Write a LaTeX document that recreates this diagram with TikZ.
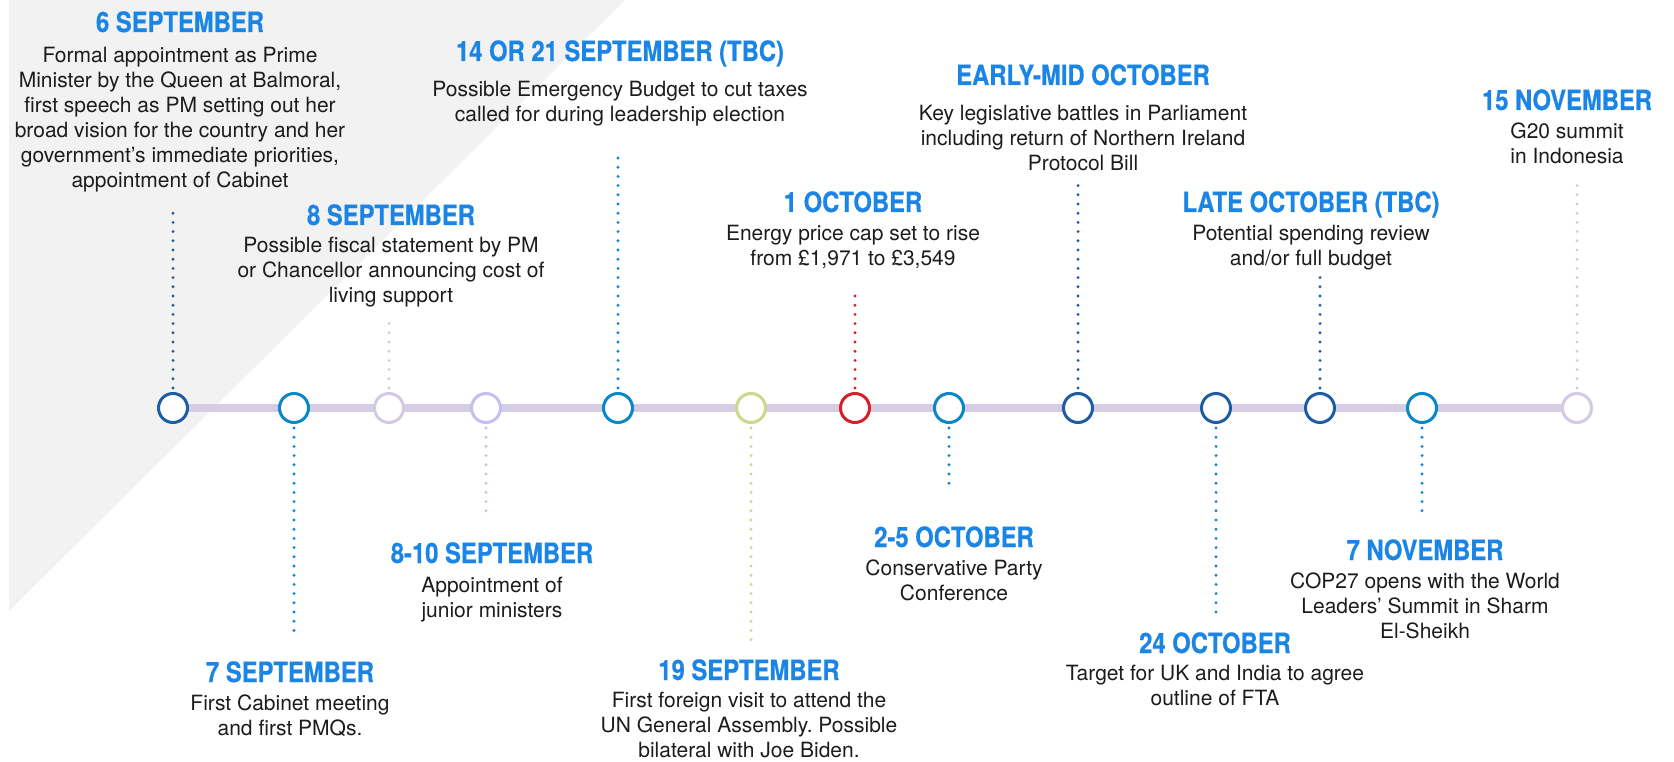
\documentclass[tikz,border=0pt]{standalone}
\usepackage{fontspec}
\setmainfont{TeX Gyre Heros}
\newfontfamily\headfont[FakeStretch=0.85,FakeBold=0.6]{TeX Gyre Heros}
\usetikzlibrary{positioning}
\frenchspacing

\definecolor{panelgrey}{HTML}{F2F2F2}
\definecolor{trackgrey}{HTML}{D5CDE4}
\definecolor{dateblue}{HTML}{1B85E5}
\definecolor{inkgrey}{HTML}{1C1C1C}
\definecolor{navy}{HTML}{1F5CA6}
\definecolor{cyan}{HTML}{0A87C9}
\definecolor{lilac}{HTML}{D2CAE2}
\definecolor{lavender}{HTML}{C6BEF0}
\definecolor{olive}{HTML}{C9D88C}
\definecolor{alarm}{HTML}{D3202A}

\begin{document}
\begin{tikzpicture}[x=1pt,y=1pt]
	\tikzset{
	  EventDot/.style = {circle, draw=#1, line width=3pt, fill=white,
	                     minimum size=29pt, inner sep=0pt},
	  DateLabel/.style = {anchor=base, inner sep=0pt, text=dateblue,
	                      font=\headfont\bfseries\fontsize{28}{30}\selectfont},
	  NoteText/.style = {inner sep=0pt, align=center, text=inkgrey,
	                     font=\fontsize{21}{25}\selectfont},
	  Link/.style = {draw=#1, line width=3.2pt, line cap=round,
	                 dash pattern=on 0pt off 9.2pt, shorten <=4pt},
	  Track/.style = {line width=8pt, trackgrey} }
	\useasboundingbox (0,0) rectangle (1674,-762);
	\fill[panelgrey] (9,0) -- (625,0) -- (9,-611) -- cycle;
	% the time line
	\coordinate (tstart) at (173,-408);
	\coordinate (tend) at (1577,-408);
	\draw[Track] (tstart) -- (tend);
	\node[EventDot=navy]     (d6sep)   at (tstart) {};
	\node[EventDot=cyan]     (d7sep)   at (294,-408) {};
	\node[EventDot=lilac]    (d8sep)   at (389,-408) {};
	\node[EventDot=lavender] (d810sep) at (486,-408) {};
	\node[EventDot=cyan]     (d14sep)  at (618,-408) {};
	\node[EventDot=olive]    (d19sep)  at (751,-408) {};
	\node[EventDot=alarm]    (d1oct)   at (855,-408) {};
	\node[EventDot=cyan]     (d25oct)  at (949,-408) {};
	\node[EventDot=navy]     (dmidoct) at (1078,-408) {};
	\node[EventDot=navy]     (d24oct)  at (1216,-408) {};
	\node[EventDot=navy]     (dlateoct) at (1320,-408) {};
	\node[EventDot=cyan]     (d7nov)   at (1422,-408) {};
	\node[EventDot=lilac]    (d15nov)  at (tend) {};
	% loose ends of the dotted links
	\coordinate (e6sep)   at (173,-211);
	\coordinate (e7sep)   at (294,-638);
	\coordinate (e8sep)   at (389,-321);
	\coordinate (e810sep) at (486,-515);
	\coordinate (e14sep)  at (618,-150);
	\coordinate (e19sep)  at (751,-640);
	\coordinate (e1oct)   at (855,-287);
	\coordinate (e25oct)  at (949,-484);
	\coordinate (emidoct) at (1078,-182);
	\coordinate (e24oct)  at (1216,-613);
	\coordinate (elateoct) at (1320,-277);
	\coordinate (e7nov)   at (1422,-518);
	\coordinate (e15nov)  at (1577,-184);
	\draw[Link=navy]     (d6sep)   -- (e6sep);
	\draw[Link=cyan]     (d7sep)   -- (e7sep);
	\draw[Link=lilac]    (d8sep)   -- (e8sep);
	\draw[Link=lavender] (d810sep) -- (e810sep);
	\draw[Link=cyan]     (d14sep)  -- (e14sep);
	\draw[Link=olive]    (d19sep)  -- (e19sep);
	\draw[Link=alarm]    (d1oct)   -- (e1oct);
	\draw[Link=cyan]     (d25oct)  -- (e25oct);
	\draw[Link=navy]     (dmidoct) -- (emidoct);
	\draw[Link=cyan]     (d24oct)  -- (e24oct);
	\draw[Link=navy]     (dlateoct) -- (elateoct);
	\draw[Link=cyan]     (d7nov)   -- (e7nov);
	\draw[Link=lilac]    (d15nov)  -- (e15nov);
	% dates and notes
	\node[DateLabel] (h6sep) at (180,-32) {6 SEPTEMBER};
	\node[NoteText, below=15pt of h6sep.base] (n6sep) {Formal appointment as Prime\\
	  Minister by the Queen at Balmoral,\\ first speech as PM setting out her\\
	  broad vision for the country and her\\ government’s immediate priorities,\\
	  appointment of Cabinet};
	\node[DateLabel] (h7sep) at (290,-682) {7 SEPTEMBER};
	\node[NoteText, below=13pt of h7sep.base] (n7sep) {First Cabinet meeting\\ and first PMQs.};
	\node[DateLabel] (h8sep) at (391,-225) {8 SEPTEMBER};
	\node[NoteText, below=12pt of h8sep.base] (n8sep) {Possible fiscal statement by PM\\
	  or Chancellor announcing cost of\\ living support};
	\node[DateLabel] (h810sep) at (492,-563) {8-10 SEPTEMBER};
	\node[NoteText, below=14pt of h810sep.base] (n810sep) {Appointment of\\ junior ministers};
	\node[DateLabel] (h14sep) at (620,-61) {14 OR 21 SEPTEMBER (TBC)};
	\node[NoteText, below=20pt of h14sep.base] (n14sep) {Possible Emergency Budget to cut taxes\\
	  called for during leadership election};
	\node[DateLabel] (h19sep) at (749,-680) {19 SEPTEMBER};
	\node[NoteText, below=12pt of h19sep.base] (n19sep) {First foreign visit to attend the\\
	  UN General Assembly. Possible\\ bilateral with Joe Biden.};
	\node[DateLabel] (h1oct) at (853,-212) {1 OCTOBER};
	\node[NoteText, below=13pt of h1oct.base] (n1oct) {Energy price cap set to rise\\ from £1,971 to £3,549};
	\node[DateLabel] (h25oct) at (954,-547) {2-5 OCTOBER};
	\node[NoteText, below=13pt of h25oct.base] (n25oct) {Conservative Party\\ Conference};
	\node[DateLabel] (hmidoct) at (1083,-85) {EARLY-MID OCTOBER};
	\node[NoteText, below=20pt of hmidoct.base] (nmidoct) {Key legislative battles in Parliament\\
	  including return of Northern Ireland\\ Protocol Bill};
	\node[DateLabel] (h24oct) at (1215,-653) {24 OCTOBER};
	\node[NoteText, below=12pt of h24oct.base] (n24oct) {Target for UK and India to agree\\ outline of FTA};
	\node[DateLabel] (hlateoct) at (1311,-212) {LATE OCTOBER (TBC)};
	\node[NoteText, below=13pt of hlateoct.base] (nlateoct) {Potential spending review\\ and/or full budget};
	\node[DateLabel] (h7nov) at (1425,-560) {7 NOVEMBER};
	\node[NoteText, below=13pt of h7nov.base] (n7nov) {COP27 opens with the World\\
	  Leaders’ Summit in Sharm\\ El-Sheikh};
	\node[DateLabel] (h15nov) at (1567,-110) {15 NOVEMBER};
	\node[NoteText, below=13pt of h15nov.base] (n15nov) {G20 summit\\ in Indonesia};
\end{tikzpicture}
\end{document}
